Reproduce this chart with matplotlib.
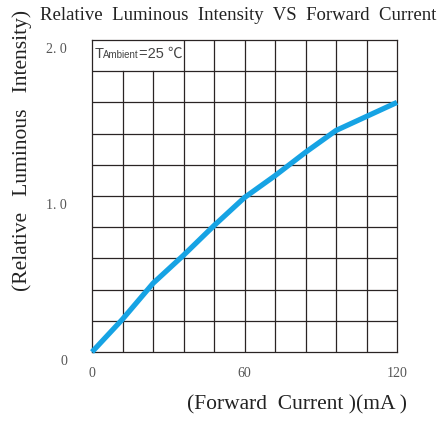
import matplotlib

matplotlib.use("Agg")
import matplotlib.pyplot as plt
import matplotlib.transforms as mtransforms

# values
current_ma = [0, 12, 24, 36, 48, 60, 72, 84, 96, 108, 120]
rel_intensity = [0.0, 0.21, 0.44, 0.62, 0.81, 0.99, 1.13, 1.28, 1.42, 1.51, 1.60]

x_ticks = [0, 60, 120]
x_tick_labels = ["0", "60", "120"]
y_ticks = [0, 1.0, 2.0]
y_tick_labels = ["0", "1. 0", "2. 0"]

grid_x = [12, 24, 36, 48, 60, 72, 84, 96, 108]
grid_y = [0.2, 0.4, 0.6, 0.8, 1.0, 1.2, 1.4, 1.6, 1.8]

SERIF = ["Liberation Serif", "Noto Sans CJK SC", "DejaVu Serif"]
SANS = ["Liberation Sans", "Noto Sans CJK SC"]
GRID = "#2a2424"
CURVE = "#16a3e4"

fig = plt.figure(figsize=(4.42, 4.22), dpi=100)
ax = fig.add_axes([92 / 442, 70 / 422, 305 / 442, 312 / 422])
ax.set_xlim(0, 120)
ax.set_ylim(0, 2.0)

# grid drawn by hand: the top-left cells hold the ambient note
for x in grid_x:
    top = 1.8 if x < 36 else 2.0
    ax.plot([x, x], [0, top], color=GRID, lw=0.9, zorder=1)
for y in grid_y:
    ax.axhline(y, color=GRID, lw=0.9, zorder=1)

for side in ax.spines.values():
    side.set_color(GRID)
    side.set_linewidth(0.9)

ax.plot(current_ma, rel_intensity, color=CURVE, lw=3.8,
        solid_capstyle="butt", solid_joinstyle="round", zorder=3, clip_on=False)

ax.set_xticks(x_ticks)
ax.set_xticklabels(x_tick_labels, family=SERIF, fontsize=10, color="#555555")
ax.set_yticks(y_ticks)
ax.set_yticklabels(y_tick_labels, family=SERIF, fontsize=10, color="#555555")
ax.tick_params(length=0, pad=11, axis="x")
ax.tick_params(length=0, pad=18, axis="y")
shift = mtransforms.ScaledTranslation(0, -6 / 72, fig.dpi_scale_trans)
for lbl in ax.get_yticklabels():
    lbl.set_transform(lbl.get_transform() + shift)

# ambient temperature note in the top-left cell
ax.text(0.01, 0.955, "T", transform=ax.transAxes, fontsize=10.5,
        family=SANS, color="#444444", va="center")
ax.text(0.037, 0.951, "Ambient", transform=ax.transAxes, fontsize=7,
        family=SANS, color="#444444", va="center")
ax.text(0.155, 0.955, "=25 ℃", transform=ax.transAxes, fontsize=10.5,
        family=SANS, color="#444444", va="center")

fig.text(238 / 442, 1 - 15 / 422, "Relative  Luminous  Intensity  VS  Forward  Current",
         family=SERIF, fontsize=13.5, color="#222222", ha="center", va="center")
fig.text(297 / 442, 1 - 405 / 422, "(Forward  Current )(mA )",
         family=SERIF, fontsize=15.5, color="#222222", ha="center", va="center")
fig.text(22 / 442, 1 - 150 / 422, "(Relative   Luminous   Intensity)",
         family=SERIF, fontsize=15.5, color="#222222", ha="center", va="center",
         rotation=90)

fig.savefig("out.png", dpi=100)
plt.close(fig)
